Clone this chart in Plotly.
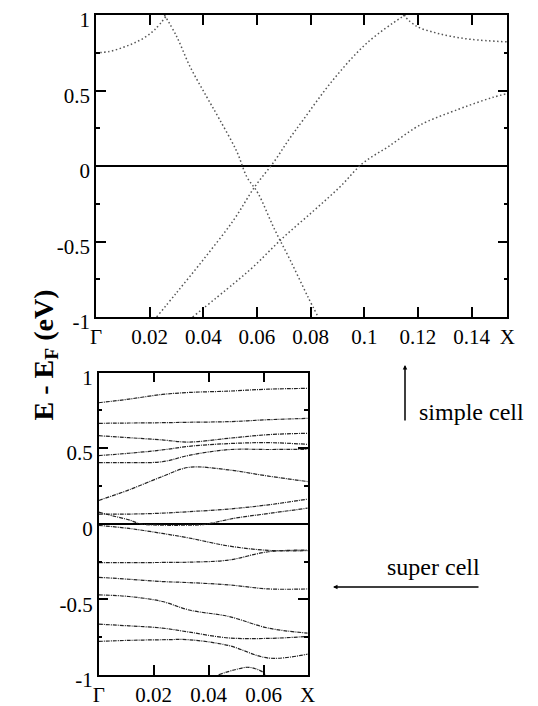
import plotly.graph_objects as go

# -------------------------------
# band data
# -------------------------------
X_TOP = 0.1533   # X point, simple cell
X_BOT = 0.0760   # X point, super cell

# simple cell bands
top_a_x = [0.0, 0.005, 0.010, 0.014, 0.018, 0.022, 0.0265]
top_a_y = [0.75, 0.758, 0.785, 0.813, 0.85, 0.905, 1.0]

top_b_x = [0.0255, 0.030, 0.035, 0.0412, 0.046, 0.0525, 0.0562, 0.0604, 0.0664, 0.0724, 0.079, 0.0828]
top_b_y = [1.0, 0.86, 0.66, 0.46, 0.31, 0.095, -0.071, -0.181, -0.414, -0.624, -0.867, -1.0]

top_c_x = [0.0226, 0.030, 0.040, 0.0513, 0.0592, 0.0664, 0.0718, 0.0772, 0.0884, 0.1009, 0.1133, 0.1155]
top_c_y = [-1.0, -0.84, -0.62, -0.358, -0.137, 0.029, 0.173, 0.305, 0.571, 0.813, 0.978, 1.0]

top_d_x = [0.036, 0.0513, 0.0586, 0.0694, 0.0814, 0.091, 0.0994, 0.1091, 0.1187, 0.1235, 0.135, 0.142, 0.148, 0.1533]
top_d_y = [-1.0, -0.779, -0.668, -0.48, -0.292, -0.137, 0.018, 0.13, 0.25, 0.295, 0.375, 0.42, 0.455, 0.48]

top_e_x = [0.1145, 0.1195, 0.126, 0.132, 0.140, 0.1533]
top_e_y = [1.0, 0.925, 0.885, 0.86, 0.838, 0.822]

# super cell bands
sc_x = [0.0, 0.011, 0.0231, 0.0328, 0.0472, 0.0617, 0.0760]
sc_1 = [0.80, 0.824, 0.855, 0.868, 0.877, 0.89, 0.895]
sc_2 = [0.664, 0.666, 0.668, 0.671, 0.675, 0.688, 0.697]
sc_3 = [0.582, 0.569, 0.554, 0.540, 0.565, 0.589, 0.598]
sc_4 = [0.451, 0.466, 0.488, 0.512, 0.530, 0.536, 0.525]
sc_5 = [0.404, 0.404, 0.41, 0.452, 0.49, 0.491, 0.492]
sc_6 = [0.154, 0.224, 0.312, 0.373, 0.356, 0.315, 0.279]
sc_7 = [0.064, 0.064, 0.07, 0.08, 0.097, 0.125, 0.163]
sc_8 = [-0.011, -0.031, -0.064, -0.094, -0.147, -0.176, -0.178]
sc_9 = [-0.257, -0.257, -0.256, -0.254, -0.24, -0.185, -0.174]
sc_10 = [-0.354, -0.367, -0.382, -0.389, -0.404, -0.431, -0.431]
sc_11 = [-0.47, -0.481, -0.514, -0.57, -0.613, -0.69, -0.723]
sc_12 = [-0.664, -0.675, -0.69, -0.716, -0.755, -0.758, -0.745]
sc_13 = [-0.778, -0.771, -0.767, -0.767, -0.805, -0.888, -0.862]

# band that dips to E_F and comes back up
sc_v_x = [0.0, 0.006, 0.011, 0.015, 0.020, 0.030, 0.038, 0.041, 0.0496, 0.0593, 0.0760]
sc_v_y = [0.077, 0.048, 0.026, 0.0, -0.008, -0.01, -0.006, 0.004, 0.037, 0.062, 0.103]

# small arc at the bottom
sc_g_x = [0.0436, 0.0496, 0.0545, 0.0593, 0.0605]
sc_g_y = [-0.998, -0.965, -0.949, -0.976, -0.998]

top_ticks = [0, 0.02, 0.04, 0.06, 0.08, 0.1, 0.12, 0.14, X_TOP]
top_labels = ["Γ", "0.02", "0.04", "0.06", "0.08", "0.1", "0.12", "0.14", "X"]
bot_ticks = [0, 0.02, 0.04, 0.06, X_BOT]
bot_labels = ["Γ", "0.02", "0.04", "0.06", "X"]
y_ticks = [-1, -0.5, 0, 0.5, 1]
y_labels = ["-1", "-0.5", "0", "0.5", "1"]

FONT = "Liberation Serif"

# page body has an 8px margin, so the figure is 8px smaller each way
W, H, OFF = 530, 698, 8


def px(x):
    return (x - OFF) / W


def py(y):
    return 1 - (y - OFF) / H


fig = go.Figure()

dot_line = dict(color="#555555", width=1.5, dash="1.5px,2.5px")
for bx, by in [(top_a_x, top_a_y), (top_b_x, top_b_y), (top_c_x, top_c_y),
               (top_d_x, top_d_y), (top_e_x, top_e_y)]:
    fig.add_trace(go.Scatter(x=bx, y=by, mode="lines", line=dot_line,
                             line_shape="spline", xaxis="x", yaxis="y",
                             showlegend=False, hoverinfo="skip"))

sc_line = dict(color="#222222", width=1.2, dash="4px,1px,1px,1px")
for by in [sc_1, sc_2, sc_3, sc_4, sc_5, sc_6, sc_7, sc_8, sc_9, sc_10, sc_11, sc_12, sc_13]:
    fig.add_trace(go.Scatter(x=sc_x, y=by, mode="lines", line=sc_line,
                             line_shape="spline", xaxis="x2", yaxis="y2",
                             showlegend=False, hoverinfo="skip"))
for bx, by in [(sc_v_x, sc_v_y), (sc_g_x, sc_g_y)]:
    fig.add_trace(go.Scatter(x=bx, y=by, mode="lines", line=sc_line,
                             line_shape="spline", xaxis="x2", yaxis="y2",
                             showlegend=False, hoverinfo="skip"))

axis_common = dict(showline=True, linecolor="black", linewidth=1.5, mirror="ticks",
                   ticks="inside", ticklen=10, tickwidth=1.5, tickcolor="black",
                   showgrid=False, zeroline=False, automargin=False,
                   ticklabeloverflow="allow",
                   tickfont=dict(family=FONT, size=21, color="black"))
yaxis_common = dict(axis_common, range=[-1, 1], tickvals=y_ticks, ticktext=y_labels,
                    ticklabelshift=5,
                    zeroline=True, zerolinecolor="black", zerolinewidth=1.5,
                    minor=dict(ticks="inside", ticklen=4, tickwidth=1.5,
                               tickcolor="black", dtick=0.25, showgrid=False))

fig.update_layout(
    width=W, height=H,
    margin=dict(l=0, r=0, t=0, b=0, autoexpand=False),
    paper_bgcolor="white", plot_bgcolor="white",
    font=dict(family=FONT, color="black"),
    xaxis=dict(axis_common, domain=[px(96), px(507.3)], range=[0, X_TOP],
               tickvals=top_ticks, ticktext=top_labels, anchor="y"),
    yaxis=dict(yaxis_common, domain=[py(317), py(15)], anchor="x"),
    xaxis2=dict(axis_common, domain=[px(98.7), px(307.7)], range=[0, X_BOT],
                tickvals=bot_ticks, ticktext=bot_labels, anchor="y2"),
    yaxis2=dict(yaxis_common, domain=[py(675), py(372.5)], anchor="x2"),
)

# y-axis title shared by both panels
fig.add_annotation(text="<b>E - E<sub>F</sub> (eV)</b>", textangle=-90,
                   xref="paper", yref="paper", x=px(25), y=py(355),
                   showarrow=False, font=dict(family=FONT, size=28, color="black"))

# labels with arrows
fig.add_annotation(text="simple cell", xref="paper", yref="paper",
                   x=px(417), y=py(412), xanchor="left", yanchor="middle",
                   showarrow=False, font=dict(family=FONT, size=24, color="black"))
fig.add_annotation(text="", xref="paper", yref="paper",
                   x=px(405), y=py(365), ax=0, ay=57,
                   showarrow=True, arrowhead=2, arrowsize=0.6, arrowwidth=1.5,
                   arrowcolor="black")
fig.add_annotation(text="super cell", xref="paper", yref="paper",
                   x=px(433), y=py(567), xanchor="center", yanchor="middle",
                   showarrow=False, font=dict(family=FONT, size=24, color="black"))
fig.add_annotation(text="", xref="paper", yref="paper",
                   x=px(333), y=py(587), ax=147, ay=0,
                   showarrow=True, arrowhead=2, arrowsize=0.6, arrowwidth=1.5,
                   arrowcolor="black")

fig.write_html("out.html")
